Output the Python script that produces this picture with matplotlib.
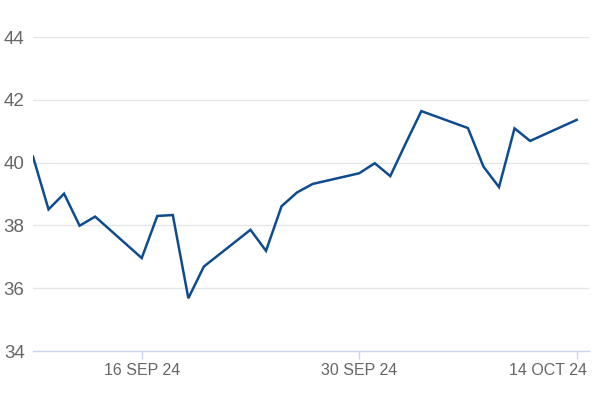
import matplotlib
matplotlib.use("Agg")
import matplotlib.pyplot as plt
import matplotlib.transforms as mtransforms
import pandas as pd

dates = ["2024-09-09", "2024-09-10", "2024-09-11", "2024-09-12", "2024-09-13",
         "2024-09-16", "2024-09-17", "2024-09-18", "2024-09-19", "2024-09-20",
         "2024-09-23", "2024-09-24", "2024-09-25", "2024-09-26", "2024-09-27",
         "2024-09-30", "2024-10-01", "2024-10-02", "2024-10-03", "2024-10-04",
         "2024-10-07", "2024-10-08", "2024-10-09", "2024-10-10", "2024-10-11",
         "2024-10-14"]
values = [40.19, 38.51, 39.01, 37.99, 38.28,
          36.96, 38.30, 38.33, 35.68, 36.69,
          37.86, 37.19, 38.61, 39.05, 39.32,
          39.66, 39.98, 39.57, 40.62, 41.64,
          41.10, 39.87, 39.22, 41.09, 40.69,
          41.36]
xtick_dates = ["2024-09-16", "2024-09-30", "2024-10-14"]
xtick_labels = ["16 SEP 24", "30 SEP 24", "14 OCT 24"]
yticks = [34, 36, 38, 40, 42, 44]

x = pd.to_datetime(dates)

plt.rcParams['font.family'] = ['Liberation Sans', 'DejaVu Sans']

fig = plt.figure(figsize=(6, 4), dpi=100)
ax = fig.add_axes([33/600, 1-351/400, (589.3-33)/600, (351-37)/400])

ax.plot(x, values, color='#0f4c8f', linewidth=1.8, solid_joinstyle='miter', zorder=3)

ax.set_ylim(34, 44)
ax.set_xlim(pd.Timestamp("2024-09-09"), pd.Timestamp("2024-10-14 19:30"))

ax.set_yticks(yticks)
ax.set_yticklabels([str(v) for v in yticks])
for v in yticks[1:]:
    ax.axhline(v, color='#e6e6e6', linewidth=1, zorder=1)

ax.set_xticks(pd.to_datetime(xtick_dates))
ax.set_xticklabels(xtick_labels)

for s in ['top', 'right', 'left']:
    ax.spines[s].set_visible(False)
ax.spines['bottom'].set_color('#ccd6eb')
ax.spines['bottom'].set_linewidth(1)

ax.tick_params(axis='y', length=0, pad=6, labelsize=13.5, labelcolor='#666666')
ax.tick_params(axis='x', length=6, width=1, color='#ccd6eb', pad=2.5,
               labelsize=11.5, labelcolor='#666666')

labels = ax.get_xticklabels()
last = labels[-1]
last.set_horizontalalignment('right')
last.set_transform(last.get_transform() + mtransforms.ScaledTranslation(10/100, 0, fig.dpi_scale_trans))

fig.savefig("out.png", dpi=100)
